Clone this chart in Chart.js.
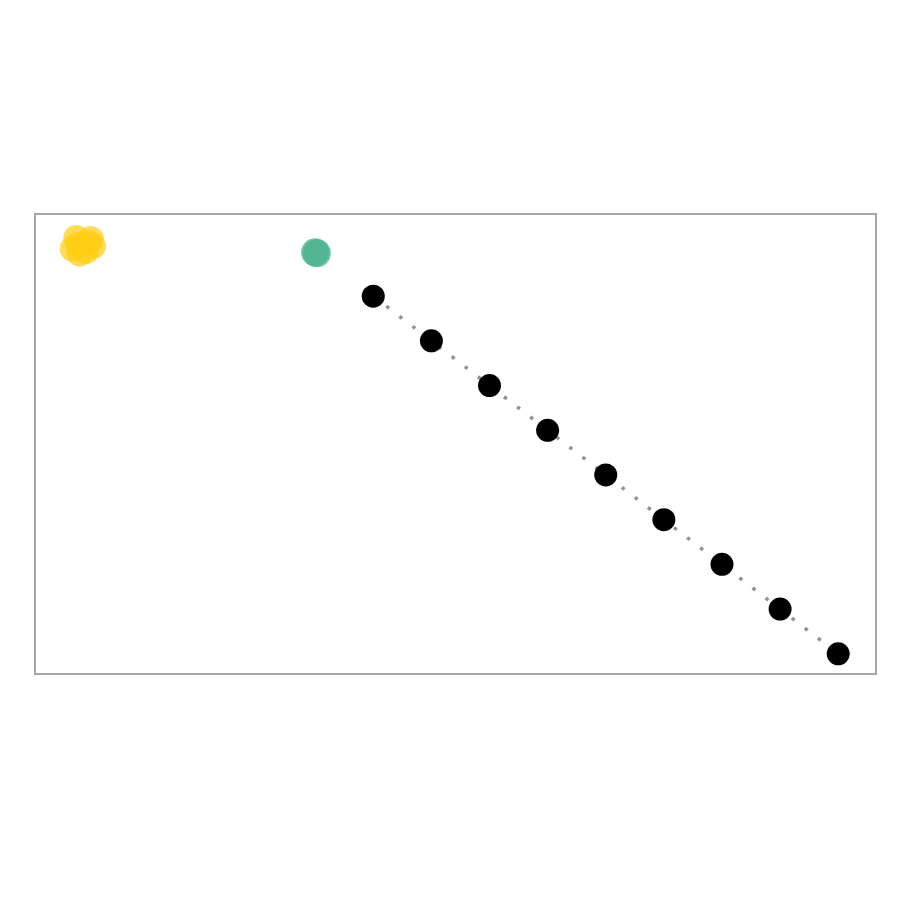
<!DOCTYPE html>
<html>
<head>
<meta charset="utf-8">
<script src="https://cdn.jsdelivr.net/npm/chart.js@4"></script>
<style>
  html, body { margin: 0; padding: 0; background: #fff; }
  #wrap { width: 900px; height: 900px; }
</style>
</head>
<body>
<div id="wrap"><canvas id="chart" width="900" height="900"></canvas></div>
<script>
// path points (black) joined by dotted line
const pathX = [1, 2, 3, 4, 5, 6, 7, 8, 9];
const pathY = [8, 7, 6, 5, 4, 3, 2, 1, 0];

// green start point(s)
const startX = [0, 0.03];
const startY = [8.98, 8.96];

// yellow jittered cluster
const clusterX = [-4.11, -3.86, -3.82, -4.17, -4.05, -3.94, -4.08, -3.91];
const clusterY = [9.30, 9.28, 9.12, 9.06, 8.95, 9.01, 9.15, 9.19];

const toPoints = (xs, ys) => xs.map((x, i) => ({ x: x, y: ys[i] }));

// draws the grey frame around the plot area
const framePlugin = {
    id: 'frame',
    afterDraw(chart) {
        const a = chart.chartArea;
        const ctx = chart.ctx;
        ctx.save();
        ctx.strokeStyle = '#a6a6a6';
        ctx.lineWidth = 2;
        ctx.strokeRect(a.left, a.top + 1, a.right - a.left, a.bottom - a.top);
        ctx.restore();
    }
};

new Chart(document.getElementById('chart').getContext('2d'), {
    type: 'scatter',
    data: {
        datasets: [
            {
                data: toPoints(pathX, pathY),
                showLine: true,
                borderColor: '#939393',
                borderWidth: 3.5,
                borderDash: [3.5, 13],
                backgroundColor: '#000',
                pointBackgroundColor: '#000',
                pointBorderWidth: 0,
                pointRadius: 11.5,
                order: 1
            },
            {
                data: toPoints(startX, startY),
                backgroundColor: 'rgba(70, 178, 138, 0.75)',
                pointBorderWidth: 0,
                pointRadius: 14,
                order: 2
            },
            {
                data: toPoints(clusterX, clusterY),
                backgroundColor: 'rgba(255, 205, 20, 0.7)',
                pointBorderWidth: 0,
                pointRadius: 13,
                order: 3
            }
        ]
    },
    options: {
        responsive: false,
        animation: false,
        layout: { padding: { left: 35, right: 24, top: 213, bottom: 227 } },
        plugins: {
            legend: { display: false },
            tooltip: { enabled: false }
        },
        scales: {
            x: { type: 'linear', min: -4.82, max: 9.65, display: false },
            y: { type: 'linear', min: -0.43, max: 9.86, display: false }
        }
    },
    plugins: [framePlugin]
});
</script>
</body>
</html>
